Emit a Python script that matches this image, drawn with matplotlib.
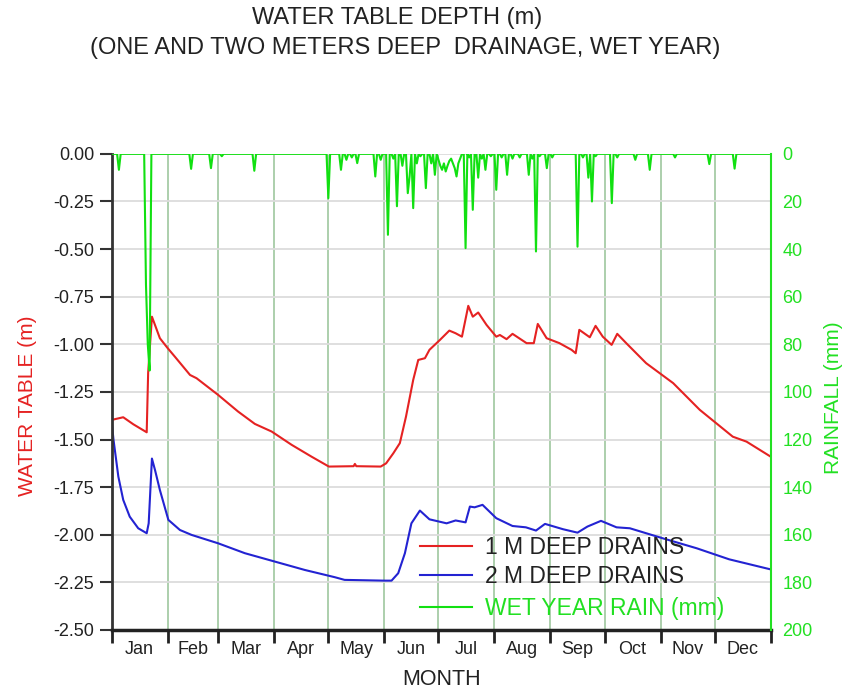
import numpy as np
import matplotlib
matplotlib.use('Agg')
import matplotlib.pyplot as plt

plt.rcParams['font.family'] = ['Liberation Sans', 'DejaVu Sans']

# months (day of year at month boundaries)
month_names = ['Jan', 'Feb', 'Mar', 'Apr', 'May', 'Jun',
               'Jul', 'Aug', 'Sep', 'Oct', 'Nov', 'Dec']
month_start = [0, 31, 59, 90, 120, 151, 181, 212, 243, 273, 304, 334, 365]

# 1 m deep drains - water table (m)
d1_days = [0, 6.4, 12, 19.4, 20.2, 22.3, 26.7, 31, 35, 43.4, 47, 59, 70, 79.3,
           88.6, 99.7, 110.7, 120.3, 134, 134.7, 135.5, 149, 152, 156, 159.6,
           163, 167, 169.8, 173.5, 176, 181.8, 187, 190.5, 194, 197.5, 200,
           203, 207.6, 213, 215, 218.7, 222, 229.8, 233.8, 236, 240.9, 248,
           254.7, 257, 259, 264.8, 268, 272, 276.9, 280, 285, 296, 311, 325.7,
           344, 351.6, 365]
d1_wt = [-1.397, -1.383, -1.42, -1.462, -1.15, -0.855, -0.968, -1.02, -1.065,
         -1.161, -1.178, -1.266, -1.353, -1.418, -1.458, -1.528, -1.590,
         -1.642, -1.640, -1.628, -1.640, -1.642, -1.625, -1.572, -1.519,
         -1.38, -1.187, -1.082, -1.073, -1.029, -0.977, -0.928, -0.942,
         -0.960, -0.798, -0.855, -0.833, -0.898, -0.960, -0.951, -0.973,
         -0.945, -0.994, -0.994, -0.893, -0.968, -0.994, -1.029, -1.047,
         -0.924, -0.963, -0.903, -0.960, -1.003, -0.945, -0.994, -1.099,
         -1.204, -1.344, -1.485, -1.511, -1.59]

# 2 m deep drains - water table (m)
d2_days = [0, 1, 3.7, 6.4, 10, 14.7, 19.4, 20.5, 22.3, 24, 26.7, 31.4, 37.8,
           44.3, 59, 73.8, 90.4, 107, 123.6, 129, 151, 155, 158.7, 162.4,
           166, 170.7, 176, 185.5, 190.5, 196, 198.4, 201, 205.4, 213, 222,
           229.4, 235, 240, 250, 258, 263.5, 271, 279.6, 287, 305, 324, 342,
           365]
d2_wt = [-1.406, -1.50, -1.695, -1.817, -1.905, -1.966, -1.992, -1.94, -1.60,
         -1.66, -1.765, -1.922, -1.975, -2.001, -2.045, -2.097, -2.141,
         -2.185, -2.223, -2.237, -2.241, -2.241, -2.202, -2.097, -1.94,
         -1.873, -1.919, -1.94, -1.925, -1.935, -1.852, -1.856, -1.843,
         -1.913, -1.954, -1.961, -1.978, -1.943, -1.971, -1.989, -1.957,
         -1.927, -1.961, -1.966, -2.018, -2.071, -2.129, -2.182]

# wet year rainfall (mm), only the days with rain
rain_days = [4, 19, 20, 21, 44, 55, 61, 79, 120, 127, 130, 133, 136, 146, 149,
             153, 156, 158, 161, 164, 165, 167, 169, 171, 174, 177, 179, 181,
             182, 183, 184, 185, 186, 187, 188, 189, 190, 191, 192, 193, 196,
             198, 200, 203, 205, 207, 210, 213, 216, 219, 222, 226, 231, 233,
             235, 237, 241, 244, 258, 261, 264, 266, 268, 277, 280, 290, 298,
             312, 331, 345]
rain_mm = [6.7, 55, 80, 91, 6.3, 6, 1, 7.1, 18.6, 6.7, 2.5, 1.5, 3.9, 9.5, 2.5,
           34, 2, 22, 5, 16.5, 9.5, 22.8, 4, 1, 14.4, 4, 8.8, 2.5,
           5, 6.7, 4, 7.4, 5, 3, 2, 4, 6, 9.5, 4, 2, 39.6,
           1.5, 23.5, 10, 2, 6.7, 1, 15.1, 1.5, 8.8, 2, 1.5, 8.8, 2,
           41, 1, 6, 1.5, 39, 1.5, 10, 20, 1, 20.7, 1.5, 2.5, 6.7,
           1.5, 4.3, 6.2]

days = np.arange(365)
rain = np.zeros(365)
rain[rain_days] = rain_mm

fig = plt.figure(figsize=(8.46, 6.90), dpi=100)
ax = fig.add_axes([0.132, 0.087, 0.779, 0.690])

ax.plot(d1_days, d1_wt, color='#e52222', lw=1.5, label='1 M DEEP DRAINS')
ax.plot(d2_days, d2_wt, color='#2323d2', lw=1.5, label='2 M DEEP DRAINS')

ax.set_xlim(0, 365)
ax.set_ylim(-2.5, 0)
ax.set_yticks(np.arange(-2.5, 0.01, 0.25))
ax.set_yticklabels(['%.2f' % v for v in np.arange(-2.5, 0.01, 0.25)])
ax.set_xticks(month_start)
ax.set_xticklabels([])
mids = [(a + b) / 2 for a, b in zip(month_start[:-1], month_start[1:])]
ax.set_xticks(mids, minor=True)
ax.set_xticklabels(month_names, minor=True)
ax.tick_params(axis='x', which='major', direction='out', length=9, width=2,
               color='#222222')
ax.tick_params(axis='x', which='minor', length=0, pad=8, labelsize=13,
               labelcolor='#222222')
ax.tick_params(axis='y', direction='out', length=9, width=1.5,
               color='#333333', labelsize=13, labelcolor='#222222')

ax.grid(axis='y', color='#dcdcdc', lw=1.3)
ax.grid(axis='x', which='major', color='#a6cca6', lw=1.3)
ax.set_axisbelow(True)

for s in ['top', 'right']:
    ax.spines[s].set_visible(False)
ax.spines['left'].set_color('#333333')
ax.spines['left'].set_linewidth(2)
ax.spines['bottom'].set_color('#222222')
ax.spines['bottom'].set_linewidth(2.5)

ax.set_ylabel('WATER TABLE (m)', color='#e52222', fontsize=15)
ax.yaxis.set_label_coords(-0.113, 0.4706)
ax.set_xlabel('MONTH', fontsize=15.5, color='#222222')
ax.xaxis.set_label_coords(0.5, -0.081)

ax2 = ax.twinx()
ax2.plot(days, rain, color='#11e011', lw=1.5, label='WET YEAR RAIN (mm)')
ax2.set_ylim(200, 0)
ax2.set_yticks(np.arange(0, 201, 20))
ax2.tick_params(axis='y', length=0, pad=8.5, labelsize=13,
                labelcolor='#22e022')
for s in ['top', 'left', 'bottom']:
    ax2.spines[s].set_visible(False)
ax2.spines['right'].set_color('#22e022')
ax2.spines['right'].set_linewidth(1.5)
ax2.set_ylabel('RAINFALL (mm)', color='#22e022', fontsize=15)
ax2.yaxis.set_label_coords(1.081, 0.487)

h1, l1 = ax.get_legend_handles_labels()
leg1 = ax2.legend(h1, l1, loc='center left', bbox_to_anchor=(420 / 846, 1 - 562 / 690),
                  bbox_transform=fig.transFigure, frameon=False, fontsize=16.5,
                  handlelength=2.27, handletextpad=0.57, labelspacing=0.26,
                  borderpad=0, borderaxespad=0, labelcolor='#222222')
ax2.add_artist(leg1)
h2, l2 = ax2.get_legend_handles_labels()
ax2.legend(h2, l2, loc='center left', bbox_to_anchor=(420 / 846, 1 - 609 / 690),
           bbox_transform=fig.transFigure, frameon=False, fontsize=16.5,
           handlelength=2.27, handletextpad=0.57, borderpad=0, borderaxespad=0,
           labelcolor='#22e022')

fig.text(0.470, 1 - 18 / 690, 'WATER TABLE DEPTH (m)', ha='center', va='center',
         fontsize=17, color='#222222')
fig.text(0.479, 1 - 48 / 690, '(ONE AND TWO METERS DEEP  DRAINAGE, WET YEAR)',
         ha='center', va='center', fontsize=17, color='#222222')

fig.savefig('out.png', dpi=100)
